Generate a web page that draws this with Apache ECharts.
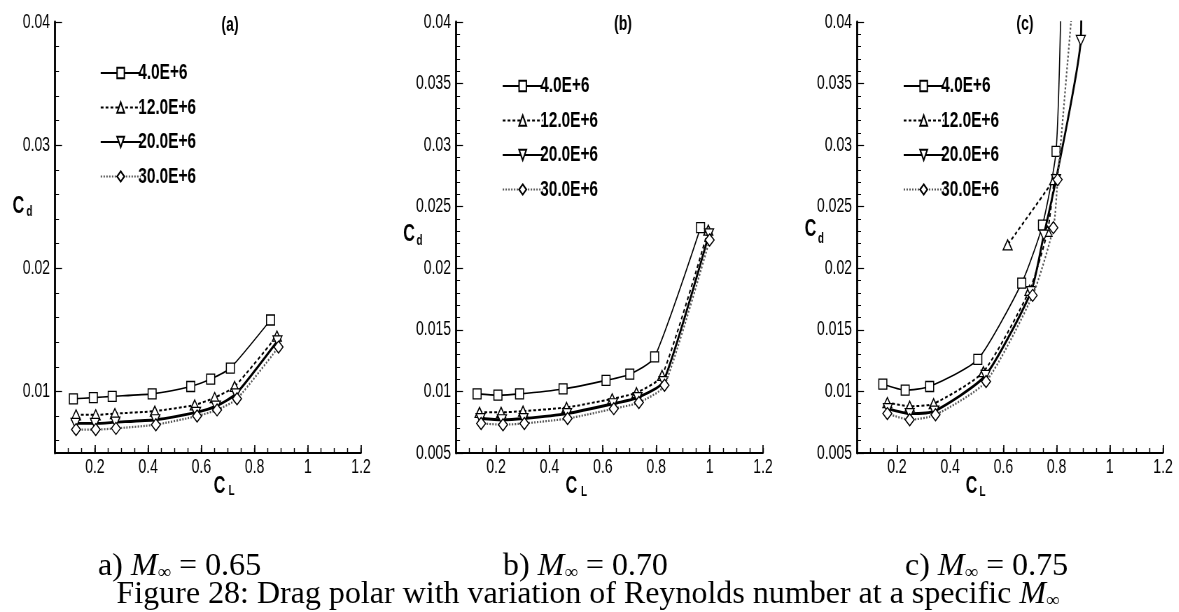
<!DOCTYPE html>
<html>
<head>
<meta charset="utf-8">
<script src="https://cdn.jsdelivr.net/npm/echarts@6/dist/echarts.min.js"></script>
<style>
  html, body { margin: 0; padding: 0; background: #fff; }
  #wrap { width: 1179px; height: 612px; overflow: hidden; position: relative; }
  #chart { height: 612px; transform-origin: 0 0; }
</style>
</head>
<body>
<div id="wrap"><div id="chart"></div></div>
<script>
// Reynolds numbers shown in each legend
const SERIES_NAMES = ['4.0E+6', '12.0E+6', '20.0E+6', '30.0E+6'];
const PANEL_TITLES = ['(a)', '(b)', '(c)'];
const PANEL_LETTERS = ['a)', 'b)', 'c)'];
const MACH_LABELS = ['0.65', '0.70', '0.75'];
const FIGURE_CAPTION = 'Figure 28: Drag polar with variation of Reynolds number at a specific ';

// Tick labels
const X_LABELS = [0.2, 0.4, 0.6, 0.8, 1, 1.2];
const Y_LABELS_A = [0.01, 0.02, 0.03, 0.04];
const Y_LABELS_BC = [0.005, 0.01, 0.015, 0.02, 0.025, 0.03, 0.035, 0.04];

// Drag polars [CL, Cd] at M = 0.65
const a_re4  = [[0.119,0.0094],[0.194,0.0095],[0.265,0.0096],[0.415,0.0098],[0.560,0.0104],[0.635,0.0110],[0.709,0.0119],[0.860,0.0158]];
const a_re12 = [[0.129,0.0081],[0.203,0.0081],[0.275,0.0082],[0.425,0.0084],[0.575,0.0089],[0.650,0.0095],[0.725,0.0104],[0.884,0.0145]];
const a_re20 = [[0.127,0.0074],[0.200,0.0074],[0.277,0.0075],[0.427,0.0077],[0.580,0.0083],[0.655,0.0088],[0.730,0.0098],[0.886,0.0141]];
const a_re30 = [[0.129,0.0069],[0.203,0.0069],[0.279,0.0070],[0.429,0.0073],[0.584,0.0080],[0.659,0.0085],[0.734,0.0094],[0.890,0.0136]];

// Drag polars [CL, Cd] at M = 0.70
const b_re4  = [[0.129,0.0098],[0.207,0.0097],[0.288,0.0098],[0.451,0.0102],[0.612,0.0109],[0.701,0.0114],[0.794,0.0128],[0.966,0.0233]];
const b_re12 = [[0.138,0.0083],[0.219,0.0083],[0.301,0.0084],[0.464,0.0087],[0.635,0.0094],[0.726,0.0099],[0.822,0.0113],[0.995,0.0231]];
const b_re20 = [[0.142,0.0078],[0.222,0.0077],[0.303,0.0078],[0.466,0.0082],[0.638,0.0090],[0.730,0.0095],[0.827,0.0108],[0.998,0.0228]];
const b_re30 = [[0.144,0.0074],[0.226,0.0073],[0.306,0.0074],[0.468,0.0078],[0.641,0.0086],[0.735,0.0091],[0.831,0.0105],[1.000,0.0223]];

// Drag polars [CL, Cd] at M = 0.75 (last points run past the top of the axis)
const c_re4  = [[0.147,0.0106],[0.231,0.0101],[0.323,0.0104],[0.504,0.0126],[0.669,0.0188],[0.747,0.0235],[0.798,0.0295],[0.817,0.0420]];
const c_re12 = [[0.164,0.0091],[0.248,0.0088],[0.338,0.0090],[0.525,0.0116],[0.698,0.0182],[0.766,0.0230],[0.791,0.0272],[0.616,0.0219]];
const c_re20 = [[0.166,0.0086],[0.248,0.0082],[0.341,0.0084],[0.533,0.0113],[0.704,0.0181],[0.752,0.0227],[0.798,0.0272],[0.891,0.0385],[0.893,0.0420]];
const c_re30 = [[0.164,0.0082],[0.248,0.0077],[0.345,0.0081],[0.535,0.0108],[0.710,0.0178],[0.788,0.0233],[0.804,0.0272],[0.862,0.0420]];

const PANELS = [
  [a_re4, a_re12, a_re20, a_re30],
  [b_re4, b_re12, b_re20, b_re30],
  [c_re4, c_re12, c_re20, c_re30]
];

// The plots are laid out on a wider canvas that is squeezed horizontally,
// giving the tall, narrow lettering of the plotting package.
const SX = 0.7;
const W = Math.round(1179 / SX);
const hx = x => x / SX;          // page x -> canvas x

const SANS = "'Liberation Sans', Arial, Helvetica, sans-serif";
const SERIF = "'Liberation Serif', 'Times New Roman', serif";

// Minor tick positions
function steps(from, to, step) {
  const out = [];
  for (let k = Math.round(from / step); k * step <= to + 1e-9; k++) out.push(+(k * step).toFixed(4));
  return out;
}
const X_MINOR = steps(0.05, 1.2, 0.05);
const Y_MINOR_A = steps(0.006, 0.04, 0.002);
const Y_MINOR_BC = steps(0.005, 0.04, 0.001);

const fmt = v => String(parseFloat((+v).toFixed(4)));

const GRIDS = [
  { left: hx(55),  top: 22, width: hx(306), height: 431 },
  { left: hx(456), top: 22, width: hx(307), height: 431 },
  { left: hx(857), top: 22, width: hx(306), height: 431 }
];

const STYLES = [
  { symbol: 'rect',     symbolSize: [hx(8), 10], symbolRotate: 0,   lineStyle: { color: '#000', width: 1.6, type: 'solid' } },
  { symbol: 'triangle', symbolSize: [hx(9), 10], symbolRotate: 0,   lineStyle: { color: '#000', width: 2,   type: [4, 3] } },
  { symbol: 'triangle', symbolSize: [hx(9), 10], symbolRotate: 180, lineStyle: { color: '#000', width: 2.8, type: 'solid' } },
  { symbol: 'diamond',  symbolSize: [hx(9), 12], symbolRotate: 0,   lineStyle: { color: '#555', width: 2.2, type: [2, 2] } }
];

const xAxis = [], yAxis = [], series = [], legend = [];
const tickLabel = { fontFamily: SANS, fontSize: 20, color: '#000', formatter: fmt };

GRIDS.forEach((g, gi) => {
  const yLabels = gi === 0 ? Y_LABELS_A : Y_LABELS_BC;
  const yMinor = gi === 0 ? Y_MINOR_A : Y_MINOR_BC;
  xAxis.push({
    gridIndex: gi, type: 'value', min: 0.05, max: 1.2, position: 'bottom',
    axisLine: { show: true, onZero: false, lineStyle: { color: '#000', width: 2 } },
    axisTick: { show: true, inside: true, length: 8, customValues: X_LABELS, lineStyle: { color: '#000', width: hx(1.2) } },
    axisLabel: Object.assign({ customValues: X_LABELS, margin: 4 }, tickLabel),
    splitLine: { show: false }
  }, {
    gridIndex: gi, type: 'value', min: 0.05, max: 1.2, position: 'bottom',
    axisLine: { show: false, onZero: false },
    axisTick: { show: true, inside: true, length: 5, customValues: X_MINOR, lineStyle: { color: '#000', width: hx(1) } },
    axisLabel: { show: false }, splitLine: { show: false }
  });
  yAxis.push({
    gridIndex: gi, type: 'value', min: 0.005, max: 0.04, position: 'left',
    axisLine: { show: true, onZero: false, lineStyle: { color: '#000', width: hx(2) } },
    axisTick: { show: true, inside: true, length: hx(7), customValues: yLabels, lineStyle: { color: '#000', width: 1.2 } },
    axisLabel: Object.assign({ customValues: yLabels, margin: hx(5) }, tickLabel),
    splitLine: { show: false }
  }, {
    gridIndex: gi, type: 'value', min: 0.005, max: 0.04, position: 'left',
    axisLine: { show: false, onZero: false },
    axisTick: { show: true, inside: true, length: hx(4), customValues: yMinor, lineStyle: { color: '#000', width: 1 } },
    axisLabel: { show: false }, splitLine: { show: false }
  });
  PANELS[gi].forEach((data, si) => {
    const s = STYLES[si];
    series.push({
      type: 'line', name: SERIES_NAMES[si], data: data,
      xAxisIndex: 2 * gi, yAxisIndex: 2 * gi,
      smooth: 0.2, clip: true,
      symbol: s.symbol, symbolSize: s.symbolSize, symbolRotate: s.symbolRotate,
      showAllSymbol: true,
      lineStyle: s.lineStyle,
      itemStyle: { color: '#fff', borderColor: '#000', borderWidth: 1.4 },
      emphasis: { disabled: true },
      z: 3 + si
    });
  });
});

const LEGEND_POS = [{ left: 100, top: 62 }, { left: 502, top: 75 }, { left: 903, top: 75 }];
LEGEND_POS.forEach(p => {
  legend.push({
    data: SERIES_NAMES, orient: 'vertical', left: hx(p.left), top: p.top, padding: 0,
    itemWidth: hx(40), itemHeight: 13, itemGap: 12.5, selectedMode: false,
    textStyle: { fontFamily: SANS, fontWeight: 'bold', fontSize: 22, lineHeight: 22, color: '#000', padding: [0, 0, 0, -hx(6)] }
  });
});

// Axis names, panel titles and caption
const bold = (text, x, y, size) => ({
  type: 'text', x: hx(x), y: y,
  style: { text: text, fontFamily: SANS, fontWeight: 'bold', fontSize: size, fill: '#000', align: 'center', verticalAlign: 'middle' }
});
const graphic = [];
const CD_POS = [[18.5, 207, 29.5, 212.5], [409, 234.5, 419.5, 241.5], [810.5, 230, 821, 239.5]];
const CL_POS = [[219.5, 486.5, 231.5, 491.5], [571.5, 487, 584, 492], [971.5, 487, 982.5, 492]];
const TITLE_POS = [[230, 25], [623, 24], [1025, 24]];
for (let i = 0; i < 3; i++) {
  graphic.push(bold('C', CD_POS[i][0], CD_POS[i][1], 23), bold('d', CD_POS[i][2], CD_POS[i][3], 14));
  graphic.push(bold('C', CL_POS[i][0], CL_POS[i][1], 23), bold('L', CL_POS[i][2], CL_POS[i][3], 14));
  graphic.push(bold(PANEL_TITLES[i], TITLE_POS[i][0], TITLE_POS[i][1], 20));
}
// The caption is typeset at its natural width (undoing the squeeze)
const capRich = {
  t: { fontFamily: SERIF, fontSize: 32, lineHeight: 30, fill: '#000', verticalAlign: 'bottom' },
  i: { fontFamily: SERIF, fontStyle: 'italic', fontSize: 32, lineHeight: 30, fill: '#000', verticalAlign: 'bottom' },
  s: { fontFamily: SERIF, fontSize: 19, lineHeight: 8, fill: '#000', verticalAlign: 'bottom' }
};
const CAP_X = [98, 503, 905];
for (let i = 0; i < 3; i++) {
  graphic.push({
    type: 'text', x: hx(CAP_X[i]), y: 568, scaleX: 1 / SX,
    style: { text: '{t|' + PANEL_LETTERS[i] + ' }{i|M}{s|∞}{t| = ' + MACH_LABELS[i] + '}', rich: capRich, align: 'left', verticalAlign: 'middle' }
  });
}
graphic.push({
  type: 'text', x: hx(588), y: 596, scaleX: 1 / SX,
  style: { text: '{t|' + FIGURE_CAPTION + '}{i|M}{s|∞}', rich: capRich, align: 'center', verticalAlign: 'middle' }
});

const el = document.getElementById('chart');
el.style.width = W + 'px';
el.style.transform = 'scaleX(' + SX + ')';
const chart = echarts.init(el, null, { renderer: 'canvas' });
chart.setOption({
  animation: false,
  backgroundColor: '#fff',
  grid: GRIDS,
  xAxis: xAxis,
  yAxis: yAxis,
  legend: legend,
  series: series,
  graphic: graphic
});
</script>
</body>
</html>
